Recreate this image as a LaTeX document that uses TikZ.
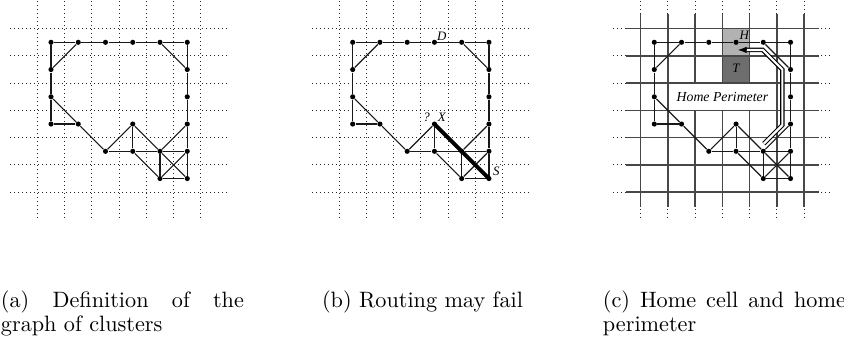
\documentclass[tikz,border=0pt]{standalone}
\usepackage{fontspec}
\usetikzlibrary{arrows.meta}
\newfontfamily\lblfont{Liberation Serif}
\tikzset{
  dot/.style={circle, fill=black, inner sep=0pt, minimum size=2.3pt},
  edge/.style={line width=0.5pt, black!90},
  thickedge/.style={line width=1.8pt, black},
  dotgrid/.style={line width=0.5pt, black!85, dash pattern=on 0.45pt off 1.35pt},
  solidgrid/.style={line width=0.7pt, black!72},
  lbl/.style={font=\lblfont\itshape\fontsize{5.8}{6}\selectfont, inner sep=0pt},
  captext/.style={inner sep=0pt, anchor=base west, font=\fontsize{10}{12}\selectfont},
  dblarrow/.style={line width=0.5pt, double, double distance=1pt},
  arrowtip/.style={line width=0.5pt, -{Latex[length=4pt,width=2.9pt]}},
}
\newcommand\panelgrid{%
  \foreach \k in {-0.5,0.5,...,5.5} {
    \draw[dotgrid] (-1.5,\k) -- (6.5,\k);
    \draw[dotgrid] (\k,-1.5) -- (\k,6.5);
  }}
\newcommand\clustergraph[1]{%
  \foreach \i/\j in {0/0,1/0,2/0,3/0,4/0,5/0,0/1,5/1,0/2,5/2,0/3,1/3,3/3,5/3,2/4,3/4,4/4,5/4,4/5,5/5}
    \node[dot] (#1-\i-\j) at (\i,\j) {};
  \foreach \u/\v in {0-0/1-0,1-0/2-0,2-0/3-0,3-0/4-0,4-0/5-0,0-0/0-1,0-1/0-2,0-2/0-3,1-0/0-1,4-0/5-1,5-0/5-1,5-1/5-2,5-2/5-3,5-3/5-4,5-4/5-5,0-3/1-3,0-2/1-3,1-3/2-4,2-4/3-3,3-3/3-4,3-3/4-4,2-4/3-4,3-4/4-4,4-4/5-4,3-4/4-5,4-4/4-5,4-4/5-5,5-4/4-5,4-4/5-3,4-5/5-5}
    \draw[edge] (#1-\u) -- (#1-\v);
}
\begin{document}
\begin{tikzpicture}[x=0.45pt, y=-0.45pt]
\useasboundingbox (0,0) rectangle (844,339);

% panel (a)
\begin{scope}[shift={(51,42.3)}, x=12.2625pt, y=-12.2625pt]
  \panelgrid
  \clustergraph{a}
\end{scope}

% panel (b)
\begin{scope}[shift={(352.7,42.3)}, x=12.2625pt, y=-12.2625pt]
  \panelgrid
  \clustergraph{b}
  \draw[thickedge] (b-3-3.center) -- (b-5-5.center);
  \node[lbl] (labD) at (3.27,-0.21) {D};
  \node[lbl] (labQ) at (2.71,2.74) {?};
  \node[lbl] (labX) at (3.27,2.74) {X};
  \node[lbl] (labS) at (5.27,4.73) {S};
\end{scope}

% panel (c)
\begin{scope}[shift={(654.3,42.3)}, x=12.2625pt, y=-12.2625pt]
  \panelgrid
  \foreach \k in {-0.5,0.5,...,5.5} {
    \draw[solidgrid] (-1.05,\k) -- (6.05,\k);
    \draw[solidgrid] (\k,-1.05) -- (\k,6.05);
  }
  \draw[solidgrid, fill=black!30] (2.5,-0.5) rectangle (3.5,0.5);
  \draw[solidgrid, fill=black!57] (2.5,0.5) rectangle (3.5,1.5);
  \node[draw=black!72, line width=0.7pt, fill=white, minimum width=49.05pt,
        minimum height=12.2625pt, inner sep=0pt,
        font=\lblfont\itshape\fontsize{6.2}{7}\selectfont] (home) at (2.5,2) {Home Perimeter};
  \clustergraph{c}
  \coordinate (ar0) at (4.02,3.72);
  \coordinate (ar1) at (4.70,3.04);
  \coordinate (ar2) at (4.70,1.00);
  \coordinate (ar3) at (3.98,0.28);
  \coordinate (ar4) at (3.36,0.28);
  \coordinate (tip) at (3.06,0.28);
  \draw[dblarrow] (ar0) -- (ar1) -- (ar2) -- (ar3) -- (ar4);
  \draw[arrowtip] (ar4) -- (tip);
  \node[lbl] (labH) at (3.3,-0.27) {H};
  \node[lbl] (labT) at (3.0,0.97) {T};
\end{scope}

% captions
\node[captext] (capa1) at (0.5,307) {\makebox[109.35pt][s]{(a) Definition of the}};
\node[captext] (capa2) at (0.5,331.5) {graph of clusters};
\node[captext, anchor=base] (capb) at (422.5,307) {(b) Routing may fail};
\node[captext] (capc1) at (602.5,307) {\makebox[109.35pt][s]{(c) Home cell and home}};
\node[captext] (capc2) at (602.5,331.5) {perimeter};
\end{tikzpicture}
\end{document}
